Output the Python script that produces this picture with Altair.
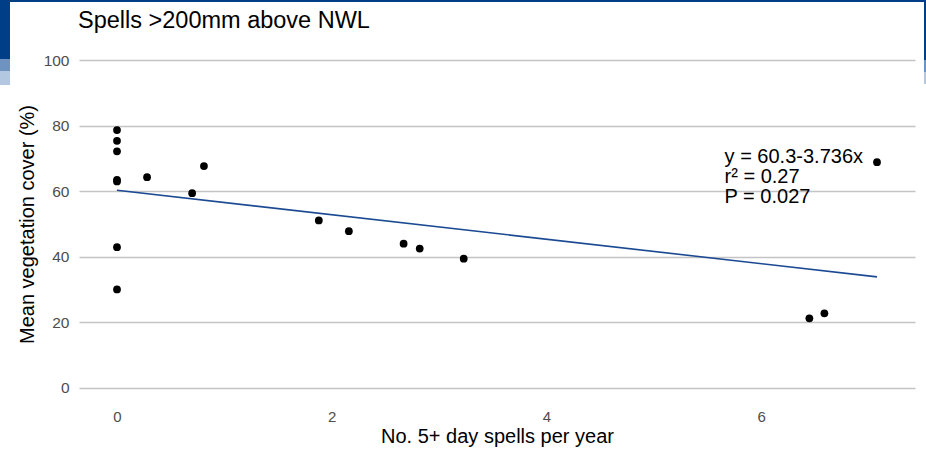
import altair as alt
import pandas as pd

# Data
spells = [0, 0, 0, 0, 0, 0, 0, 0.28, 0.70, 0.81, 1.88, 2.16, 2.67, 2.82, 3.23, 6.45, 6.59, 7.08]
cover = [78.7, 75.4, 72.2, 63.5, 63.0, 42.9, 30.0, 64.3, 59.4, 67.7, 51.1, 47.8, 44.0, 42.5, 39.4, 21.2, 22.7, 68.9]
intercept = 60.3
slope = -3.736
annotation = "y = 60.3-3.736x\nr\u00b2 = 0.27\nP = 0.027"
ann_x = [5.66]
ann_y = [68.5]
y_ticks = [0, 20, 40, 60, 80, 100]
x_ticks = [0, 2, 4, 6]
title_text = "Spells >200mm above NWL"

pts = pd.DataFrame({"x": spells, "y": cover})
xmin, xmax = min(spells), max(spells)
line_df = pd.DataFrame({"x": [xmin, xmax], "y": [intercept + slope * xmin, intercept + slope * xmax]})
ann_df = pd.DataFrame({"x": ann_x, "y": ann_y, "t": [annotation]})

FONT = "Liberation Sans"
W, H = 836, 360
PL, PT = 79, 44

xs = alt.Scale(domain=[-0.354, 7.434], nice=False, zero=False)
ys = alt.Scale(domain=[-5, 105], nice=False, zero=False)

x_axis = alt.Axis(values=x_ticks, format="d", grid=False, ticks=False, domain=False, labelPadding=5,
                  labelFontSize=15, labelColor="#4d4d4d", labelFont=FONT,
                  title="No. 5+ day spells per year", titleFontSize=20, titleFont=FONT,
                  titleColor="#000000", titleFontWeight="normal", titlePadding=2)
y_axis = alt.Axis(values=y_ticks, format="d", grid=True, gridColor="#c4c4c4", gridWidth=1.6, ticks=False,
                  domain=False, labelPadding=10, labelFontSize=15.5, labelColor="#4d4d4d",
                  labelFont=FONT, title="Mean vegetation cover (%)", titleFontSize=20,
                  titleFont=FONT, titleColor="#000000", titleFontWeight="normal",
                  titleX=-52, titleY=H / 2, titleBaseline="middle", titleAlign="center")

points = alt.Chart(pts).mark_circle(color="black", opacity=1, size=60).encode(
    x=alt.X("x:Q", scale=xs, axis=x_axis),
    y=alt.Y("y:Q", scale=ys, axis=y_axis),
)
fit = alt.Chart(line_df).mark_line(color="#1b4a93", strokeWidth=1.6).encode(
    x=alt.X("x:Q", scale=xs), y=alt.Y("y:Q", scale=ys)
)
text = alt.Chart(ann_df).mark_text(align="left", baseline="alphabetic", fontSize=20,
                                   font=FONT, color="black", lineBreak="\n", lineHeight=20).encode(
    x=alt.X("x:Q", scale=xs), y=alt.Y("y:Q", scale=ys), text="t:N"
)

title = alt.Chart(pd.DataFrame({"t": [title_text]})).mark_text(
    align="left", baseline="middle", fontSize=23.5, font=FONT, color="black"
).encode(x=alt.value(78 - PL), y=alt.value(21 - PT), text="t:N")

# Slide frame decoration (not data)
def deco(x1, x2, y1, y2, color):
    return alt.Chart(pd.DataFrame({"a": [0]})).mark_rect(color=color).encode(
        x=alt.value(x1 - PL), x2=alt.value(x2 - PL), y=alt.value(y1 - PT), y2=alt.value(y2 - PT)
    )

frame = [
    deco(0, 926, 0, 2, "#003f87"),
    deco(0, 10, 0, 59, "#003f87"),
    deco(0, 10, 59, 71, "#6f93c0"),
    deco(0, 10, 71, 85, "#b3c7e0"),
    deco(924, 926, 0, 60, "#003f87"),
    deco(924, 926, 60, 72, "#6f93c0"),
    deco(924, 926, 72, 84, "#b3c7e0"),
]

chart = alt.layer(points, fit, text, title, *frame).properties(
    width=W, height=H,
    background="white",
    autosize=alt.AutoSizeParams(type="none"),
    padding={"left": PL, "top": PT, "right": 926 - PL - W, "bottom": 453 - PT - H},
).configure_view(strokeWidth=0, stroke=None)

chart.save("out.html", embed_options={"renderer": "svg", "actions": False})
